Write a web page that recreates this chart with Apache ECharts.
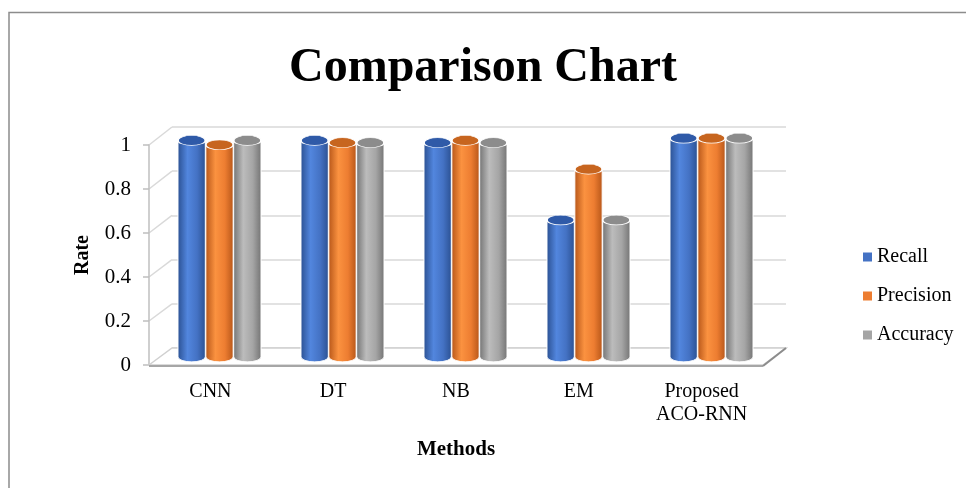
<!DOCTYPE html>
<html>
<head>
<meta charset="utf-8">
<title>Comparison Chart</title>
<script src="https://cdn.jsdelivr.net/npm/echarts@6/dist/echarts.min.js"></script>
<style>
  html, body { margin: 0; padding: 0; background: #fff; }
  #chart { width: 966px; height: 488px; }
</style>
</head>
<body>
<div id="chart"></div>
<script>
// Methods compared and their scores
const methods = ['CNN', 'DT', 'NB', 'EM', 'Proposed\nACO-RNN'];
const recall    = [0.98, 0.98, 0.97, 0.62, 0.99];
const precision = [0.96, 0.97, 0.98, 0.85, 0.99];
const accuracy  = [0.98, 0.97, 0.97, 0.62, 0.99];
const seriesNames = ['Recall', 'Precision', 'Accuracy'];
const yTicks = [0, 0.2, 0.4, 0.6, 0.8, 1];

const FONT = '"Liberation Serif", "Times New Roman", serif';

// Shading for each cylinder: edge, highlight, body, cap
const palettes = [
  { edge: '#2c5294', light: '#5286de', body: '#4472c4', cap: '#2f5aa8' },
  { edge: '#b9581a', light: '#fb9240', body: '#ed7d31', cap: '#c7651f' },
  { edge: '#767676', light: '#bcbcbc', body: '#a5a5a5', cap: '#8c8c8c' }
];

function bodyGradient(p) {
  return new echarts.graphic.LinearGradient(0, 0, 1, 0, [
    { offset: 0, color: p.edge },
    { offset: 0.35, color: p.light },
    { offset: 0.7, color: p.body },
    { offset: 1, color: p.edge }
  ]);
}

function ellipse(cx, cy, rx, ry, style) {
  return {
    type: 'circle',
    shape: { cx: 0, cy: 0, r: rx },
    x: cx, y: cy, scaleX: 1, scaleY: ry / rx,
    style: Object.assign({ strokeNoScale: true }, style)
  };
}

// Cylinder drawn for one bar of series `idx`
function cylinderRenderer(idx) {
  const p = palettes[idx];
  return function (params, api) {
    const cat = api.value(0);
    const val = api.value(1);
    const base = api.coord([cat, 0]);
    const top = api.coord([cat, val]);
    const band = api.size([1, 0])[0];
    const w = band * 0.222;
    const cx = base[0] + (idx - 1) * w * 1.02;
    const rx = w / 2;
    const ry = w * 0.18;
    const grad = bodyGradient(p);
    return {
      type: 'group',
      children: [
        ellipse(cx, base[1], rx, ry, { fill: grad, stroke: '#fff', lineWidth: 1 }),
        {
          type: 'rect',
          shape: { x: cx - rx, y: top[1], width: w, height: base[1] - top[1] },
          style: { fill: grad }
        },
        {
          type: 'line',
          shape: { x1: cx - rx, y1: top[1], x2: cx - rx, y2: base[1] },
          style: { stroke: '#fff', lineWidth: 1 }
        },
        {
          type: 'line',
          shape: { x1: cx + rx, y1: top[1], x2: cx + rx, y2: base[1] },
          style: { stroke: '#fff', lineWidth: 1 }
        },
        ellipse(cx, top[1], rx, ry, { fill: p.cap, stroke: '#fff', lineWidth: 1.8 })
      ]
    };
  };
}

const seriesData = [recall, precision, accuracy];

const chart = echarts.init(document.getElementById('chart'), null, { renderer: 'canvas' });

const option = {
  backgroundColor: '#fff',
  animation: false,
  title: {
    text: 'Comparison Chart',
    left: 'center',
    top: 40,
    textStyle: { fontFamily: FONT, fontSize: 48, fontWeight: 'bold', color: '#000' }
  },
  legend: {
    orient: 'vertical',
    left: 858,
    top: 242,
    itemGap: 19,
    itemWidth: 9,
    itemHeight: 9,
    icon: 'rect',
    data: seriesNames,
    textStyle: { fontFamily: FONT, fontSize: 20, color: '#000' }
  },
  grid: [
    // back wall
    { left: 172, right: 180, top: 127, bottom: 140 },
    // bars, at mid depth
    { left: 158, right: 193, top: 136, bottom: 131 },
    // front edge: labels and axis names
    { left: 149, right: 203, top: 145, bottom: 123 }
  ],
  xAxis: [
    { gridIndex: 0, type: 'category', data: methods, show: false },
    { gridIndex: 1, type: 'category', data: methods, show: false },
    {
      gridIndex: 2, type: 'category', data: methods,
      axisLine: { show: false }, axisTick: { show: false },
      axisLabel: { interval: 0, fontFamily: FONT, fontSize: 20, color: '#000', margin: 15, lineHeight: 23 },
      name: 'Methods', nameLocation: 'middle', nameGap: 74,
      nameTextStyle: { fontFamily: FONT, fontSize: 21, fontWeight: 'bold', color: '#000' }
    }
  ],
  yAxis: [
    {
      gridIndex: 0, type: 'value', min: 0, max: 1, interval: 0.2,
      axisLine: { show: false }, axisTick: { show: false }, axisLabel: { show: false },
      splitLine: { lineStyle: { color: '#d9d9d9', width: 1.5 } }
    },
    {
      gridIndex: 1, type: 'value', min: 0, max: 1, interval: 0.2,
      show: false, splitLine: { show: false }
    },
    {
      gridIndex: 2, type: 'value', min: 0, max: 1, interval: 0.2,
      axisLine: { show: true, lineStyle: { color: '#bfbfbf', width: 1.5 } },
      axisTick: { show: true, length: 6, lineStyle: { color: '#bfbfbf', width: 1.5 } },
      splitLine: { show: false },
      axisLabel: { fontFamily: FONT, fontSize: 21, color: '#000', margin: 18 },
      name: 'Rate', nameLocation: 'middle', nameGap: 56, nameRotate: 90,
      nameTextStyle: { fontFamily: FONT, fontSize: 20, fontWeight: 'bold', color: '#000' }
    }
  ],
  series: seriesNames.map((name, i) => ({
    name: name,
    type: 'custom',
    xAxisIndex: 1,
    yAxisIndex: 1,
    itemStyle: { color: palettes[i].body },
    renderItem: cylinderRenderer(i),
    encode: { x: 0, y: 1 },
    data: seriesData[i].map((v, k) => [k, v]),
    z: 3
  }))
};

chart.setOption(option);

// Left wall and floor of the 3D frame, placed from the axes' own scales
function frame() {
  const g = [];
  const lastCat = methods.length - 1;
  const frontAxis = chart.getModel().getComponent('xAxis', 2).axis;
  const backAxis = chart.getModel().getComponent('xAxis', 0).axis;
  const yF = v => chart.convertToPixel({ gridIndex: 2 }, [0, v])[1];
  const yB = v => chart.convertToPixel({ gridIndex: 0 }, [0, v])[1];
  const xFrontL = chart.convertToPixel({ xAxisIndex: 2 }, 0) - frontAxis.getBandWidth() / 2;
  const xFrontR = chart.convertToPixel({ xAxisIndex: 2 }, lastCat) + frontAxis.getBandWidth() / 2;
  const xBackL = chart.convertToPixel({ xAxisIndex: 0 }, 0) - backAxis.getBandWidth() / 2;
  const xBackR = chart.convertToPixel({ xAxisIndex: 0 }, lastCat) + backAxis.getBandWidth() / 2;
  const light = { stroke: '#d9d9d9', lineWidth: 1.5 };

  // tick diagonals running back along the left wall
  yTicks.forEach(v => {
    if (v === 0) return;
    g.push({ type: 'line', shape: { x1: xFrontL, y1: yF(v), x2: xBackL, y2: yB(v) }, style: light });
  });
  // floor
  g.push({
    type: 'polygon',
    shape: { points: [[xFrontL, yF(0)], [xBackL, yB(0)], [xBackR, yB(0)], [xFrontR, yF(0)]] },
    style: { fill: '#fff', stroke: '#d0d0d0', lineWidth: 1.5 }, z: 1
  });
  g.push({ type: 'line', shape: { x1: xFrontL, y1: yF(0) + 1, x2: xFrontR, y2: yF(0) + 1 }, style: { stroke: '#a6a6a6', lineWidth: 2 }, z: 1 });
  g.push({ type: 'line', shape: { x1: xFrontR, y1: yF(0) + 1, x2: xBackR, y2: yB(0) }, style: { stroke: '#8c8c8c', lineWidth: 2 }, z: 1 });
  // outer border
  g.push({ type: 'polyline', shape: { points: [[9, 488], [9, 12.5], [966, 12.5]] }, style: { stroke: '#8c8c8c', lineWidth: 1.5, fill: null }, z: 0 });
  return g;
}

chart.setOption({ graphic: frame() });
</script>
</body>
</html>
